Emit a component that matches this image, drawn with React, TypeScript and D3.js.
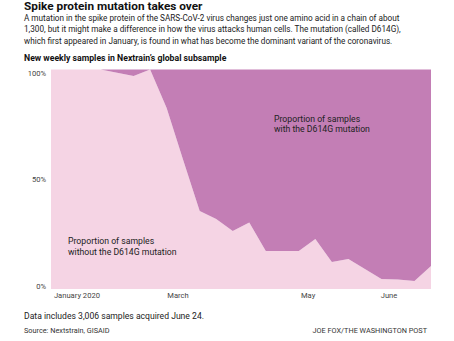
import React from "react";
import * as d3 from "d3";

// Share of weekly samples WITHOUT the D614G mutation (week index 0..23)
const withoutShare = [1, 1, 1, 1, 0.985, 0.97, 1, 0.825, 0.588, 0.355, 0.319, 0.264, 0.303, 0.173, 0.173, 0.173, 0.228, 0.123, 0.137, 0.091, 0.046, 0.043, 0.036, 0.105];

// x-axis tick labels and their positions (in week units)
const xTickLabels = ["January 2020", "March", "May", "June"];
const xTickWeeks = [1.57, 7.69, 15.56, 20.46];

// y-axis ticks
const yTickValues = [0, 0.5, 1];
const yTickLabels = ["0%", "50%", "100%"];

const descLines = [
  "A mutation in the spike protein of the SARS-CoV-2 virus changes just one amino acid in a chain of about",
  "1,300, but it might make a difference in how the virus attacks human cells. The mutation (called D614G),",
  "which first appeared in January, is found in what has become the dominant variant of the coronavirus.",
];

const W = 454;
const H = 341;
const LIGHT = "#f5d4e4";
const DARK = "#c37eb5";
const FONT = "Roboto, 'Liberation Sans', sans-serif";

export default function App() {
  const left = 51, right = 431, top = 69.5, bottom = 289;
  const x = d3.scaleLinear().domain([0, withoutShare.length - 1]).range([left, right]);
  const y = d3.scaleLinear().domain([0, 1]).range([bottom, top]);

  const lightArea = d3.area<number>()
    .x((_, i) => x(i))
    .y0(() => y(0))
    .y1((d) => y(d))
    .curve(d3.curveLinear);
  const darkArea = d3.area<number>()
    .x((_, i) => x(i))
    .y0((d) => y(d))
    .y1(() => y(1))
    .curve(d3.curveLinear);

  return (
    <svg width={W} height={H} viewBox={`0 0 ${W} ${H}`}
      style={{ position: "absolute", left: 0, top: 0, background: "#fff" }}
      fontFamily={FONT}>
      <text x={24} y={10} fontSize={11.8} fontWeight={700} fill="#111">Spike protein mutation takes over</text>
      {descLines.map((t, i) => (
        <text key={i} x={24} y={20.5 + i * 11.7} fontSize={8.2} fill="#222">{t}</text>
      ))}
      <text x={24} y={60.7} fontSize={8.7} fontWeight={700} fill="#111">New weekly samples in Nextrain’s global subsample</text>

      <path d={lightArea(withoutShare) || ""} fill={LIGHT} />
      <path d={darkArea(withoutShare) || ""} fill={DARK} />

      {yTickValues.map((v, i) => (
        <text key={v} x={46} y={y(v) + 6 * v} fontSize={7.6} fill="#444" textAnchor="end">{yTickLabels[i]}</text>
      ))}
      {xTickLabels.map((t, i) => (
        <text key={t} x={x(xTickWeeks[i])} y={298.3} fontSize={7.6} fill="#444" textAnchor="middle">{t}</text>
      ))}

      <text x={274} y={121.7} fontSize={8.7} fill="#222">
        <tspan x={274}>Proportion of samples</tspan>
        <tspan x={274} dy={10.6}>with the D614G mutation</tspan>
      </text>
      <text x={68} y={244} fontSize={8.7} fill="#222">
        <tspan x={68}>Proportion of samples</tspan>
        <tspan x={68} dy={10.8}>without the D614G mutation</tspan>
      </text>

      <text x={24} y={319.3} fontSize={8.6} fill="#222">Data includes 3,006 samples acquired June 24.</text>
      <text x={24} y={333} fontSize={7.3} fill="#333">Source: Nextstrain, GISAID</text>
      <text x={427} y={333} fontSize={7.3} fill="#333" textAnchor="end">JOE FOX/THE WASHINGTON POST</text>
    </svg>
  );
}
